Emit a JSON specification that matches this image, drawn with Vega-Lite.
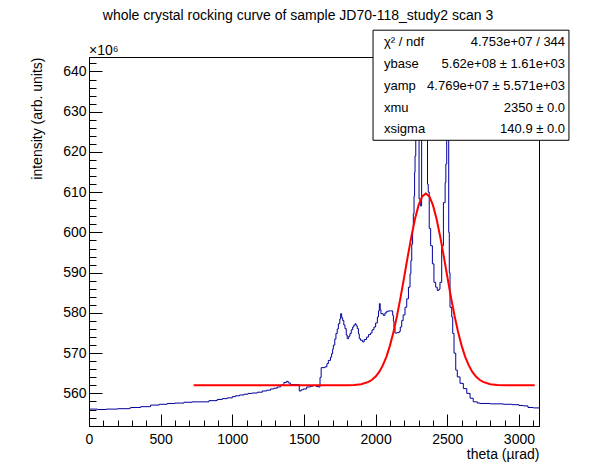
{
  "$schema": "https://vega.github.io/schema/vega-lite/v6.json",
  "width": 450,
  "height": 369,
  "autosize": {"type": "none"},
  "padding": {"left": 89, "top": 57, "right": 59, "bottom": 48},
  "background": "white",
  "title": {
    "text": "whole crystal rocking curve of sample JD70-118_study2 scan 3",
    "font": "Liberation Sans",
    "fontSize": 14,
    "fontWeight": "normal",
    "color": "black",
    "anchor": "middle",
    "baseline": "alphabetic",
    "dx": -16,
    "dy": 14,
    "offset": 10
  },
  "datasets": {
    "hist": [
      {"x": 0, "y": 556.1}, {"x": 60, "y": 556.0}, {"x": 120, "y": 556.1}, {"x": 200, "y": 556.2},
      {"x": 280, "y": 556.3}, {"x": 291, "y": 556.5}, {"x": 360, "y": 556.7}, {"x": 430, "y": 557.1},
      {"x": 490, "y": 557.3}, {"x": 546, "y": 557.5}, {"x": 600, "y": 557.6}, {"x": 663, "y": 557.8},
      {"x": 720, "y": 557.9}, {"x": 767, "y": 557.9}, {"x": 837, "y": 558.2}, {"x": 895, "y": 558.5},
      {"x": 930, "y": 558.7}, {"x": 965, "y": 558.9}, {"x": 1000, "y": 559.2}, {"x": 1023, "y": 559.4},
      {"x": 1050, "y": 559.6}, {"x": 1081, "y": 559.8}, {"x": 1110, "y": 560.0}, {"x": 1139, "y": 560.1},
      {"x": 1175, "y": 560.3}, {"x": 1209, "y": 560.6}, {"x": 1240, "y": 560.8}, {"x": 1267, "y": 561.1},
      {"x": 1290, "y": 561.3}, {"x": 1314, "y": 561.6}, {"x": 1337, "y": 562.1}, {"x": 1360, "y": 562.7},
      {"x": 1377, "y": 563.0}, {"x": 1390, "y": 562.6}, {"x": 1405, "y": 562.2}, {"x": 1467, "y": 560.6},
      {"x": 1480, "y": 560.9}, {"x": 1495, "y": 561.1}, {"x": 1519, "y": 561.6}, {"x": 1545, "y": 561.8},
      {"x": 1565, "y": 562.0}, {"x": 1585, "y": 561.7}, {"x": 1600, "y": 561.6}, {"x": 1612, "y": 564.0},
      {"x": 1620, "y": 566.4}, {"x": 1646, "y": 566.6}, {"x": 1660, "y": 567.4}, {"x": 1670, "y": 568.2},
      {"x": 1685, "y": 569.0}, {"x": 1693, "y": 569.9}, {"x": 1700, "y": 571.0}, {"x": 1705, "y": 572.0},
      {"x": 1715, "y": 573.5}, {"x": 1723, "y": 574.9}, {"x": 1732, "y": 576.0}, {"x": 1740, "y": 577.3},
      {"x": 1750, "y": 578.5}, {"x": 1756, "y": 579.8}, {"x": 1763, "y": 578.8}, {"x": 1770, "y": 578.1},
      {"x": 1778, "y": 577.0}, {"x": 1786, "y": 576.1}, {"x": 1795, "y": 574.5}, {"x": 1802, "y": 573.6},
      {"x": 1812, "y": 574.2}, {"x": 1821, "y": 574.9}, {"x": 1830, "y": 575.8}, {"x": 1840, "y": 576.5},
      {"x": 1848, "y": 577.0}, {"x": 1856, "y": 577.3}, {"x": 1864, "y": 576.8}, {"x": 1872, "y": 576.1},
      {"x": 1880, "y": 574.8}, {"x": 1886, "y": 573.6}, {"x": 1895, "y": 573.2}, {"x": 1909, "y": 572.8},
      {"x": 1920, "y": 573.4}, {"x": 1937, "y": 574.0}, {"x": 1950, "y": 574.6}, {"x": 1965, "y": 575.0},
      {"x": 1975, "y": 575.8}, {"x": 1988, "y": 576.5}, {"x": 2000, "y": 577.5}, {"x": 2012, "y": 579.0},
      {"x": 2020, "y": 580.5}, {"x": 2026, "y": 582.3}, {"x": 2032, "y": 580.8}, {"x": 2037, "y": 579.8},
      {"x": 2053, "y": 579.4}, {"x": 2065, "y": 580.0}, {"x": 2077, "y": 580.4}, {"x": 2090, "y": 580.5},
      {"x": 2105, "y": 580.5}, {"x": 2119, "y": 579.4}, {"x": 2124, "y": 578.0}, {"x": 2128, "y": 576.5},
      {"x": 2135, "y": 575.0}, {"x": 2150, "y": 575.1}, {"x": 2165, "y": 575.4}, {"x": 2172, "y": 576.5},
      {"x": 2182, "y": 578.1}, {"x": 2192, "y": 579.5}, {"x": 2205, "y": 581.4}, {"x": 2217, "y": 583.5},
      {"x": 2229, "y": 586.4}, {"x": 2240, "y": 589.7}, {"x": 2246, "y": 593.0}, {"x": 2252, "y": 597.1},
      {"x": 2258, "y": 601.0}, {"x": 2263, "y": 604.6}, {"x": 2268, "y": 609.0}, {"x": 2272, "y": 614.9},
      {"x": 2275, "y": 619.0}, {"x": 2280, "y": 632.0}, {"x": 2303, "y": 608.3}, {"x": 2312, "y": 606.6},
      {"x": 2321, "y": 640.0}, {"x": 2362, "y": 612.0}, {"x": 2367, "y": 610.0}, {"x": 2374, "y": 601.0},
      {"x": 2384, "y": 596.7}, {"x": 2396, "y": 592.2}, {"x": 2407, "y": 587.6}, {"x": 2419, "y": 586.4},
      {"x": 2430, "y": 585.6}, {"x": 2442, "y": 585.9}, {"x": 2449, "y": 587.6}, {"x": 2461, "y": 596.7},
      {"x": 2473, "y": 607.4}, {"x": 2485, "y": 612.4}, {"x": 2490, "y": 617.0}, {"x": 2496, "y": 630.0},
      {"x": 2510, "y": 600.0}, {"x": 2514, "y": 590.0}, {"x": 2519, "y": 581.4}, {"x": 2531, "y": 579.0},
      {"x": 2538, "y": 574.9}, {"x": 2547, "y": 570.0}, {"x": 2559, "y": 565.8}, {"x": 2570, "y": 564.1},
      {"x": 2589, "y": 562.5}, {"x": 2612, "y": 561.2}, {"x": 2636, "y": 560.0}, {"x": 2659, "y": 558.8},
      {"x": 2681, "y": 557.9}, {"x": 2710, "y": 557.6}, {"x": 2728, "y": 557.5}, {"x": 2800, "y": 557.4},
      {"x": 2891, "y": 557.3}, {"x": 2950, "y": 557.2}, {"x": 3000, "y": 557.0}, {"x": 3030, "y": 556.9},
      {"x": 3063, "y": 556.5}, {"x": 3100, "y": 556.4}, {"x": 3140, "y": 556.3}
    ],
    "fit": [
      {"x": 730, "y": 562.0}, {"x": 1750, "y": 562.0}, {"x": 1800, "y": 562.02}, {"x": 1850, "y": 562.09},
      {"x": 1900, "y": 562.29}, {"x": 1950, "y": 562.85}, {"x": 1975, "y": 563.38}, {"x": 2000, "y": 564.18},
      {"x": 2025, "y": 565.33}, {"x": 2050, "y": 566.95}, {"x": 2075, "y": 569.10}, {"x": 2100, "y": 571.88},
      {"x": 2125, "y": 575.32}, {"x": 2150, "y": 579.41}, {"x": 2175, "y": 584.05}, {"x": 2200, "y": 589.06},
      {"x": 2225, "y": 594.18}, {"x": 2250, "y": 599.07}, {"x": 2275, "y": 603.39}, {"x": 2300, "y": 606.78},
      {"x": 2325, "y": 608.95}, {"x": 2350, "y": 609.69}, {"x": 2375, "y": 608.95}, {"x": 2400, "y": 606.78},
      {"x": 2425, "y": 603.39}, {"x": 2450, "y": 599.07}, {"x": 2475, "y": 594.18}, {"x": 2500, "y": 589.06},
      {"x": 2525, "y": 584.05}, {"x": 2550, "y": 579.41}, {"x": 2575, "y": 575.32}, {"x": 2600, "y": 571.88},
      {"x": 2625, "y": 569.10}, {"x": 2650, "y": 566.95}, {"x": 2675, "y": 565.33}, {"x": 2700, "y": 564.18},
      {"x": 2725, "y": 563.38}, {"x": 2750, "y": 562.85}, {"x": 2800, "y": 562.29}, {"x": 2850, "y": 562.09},
      {"x": 2900, "y": 562.02}, {"x": 2950, "y": 562.0}, {"x": 3110, "y": 562.0}
    ],
    "box": [{"x": 1982, "x2": 3349, "y": 650.26, "y2": 622.9}],
    "stats": [
      {"lx": 2058, "vx": 3322, "y": 647.28, "label": "χ² / ndf", "value": "4.753e+07 / 344"},
      {"lx": 2058, "vx": 3322, "y": 641.8, "label": "ybase", "value": "5.62e+08 ± 1.61e+03"},
      {"lx": 2058, "vx": 3322, "y": 636.35, "label": "yamp", "value": "4.769e+07 ± 5.571e+03"},
      {"lx": 2058, "vx": 3322, "y": 631.0, "label": "xmu", "value": "2350 ± 0.0"},
      {"lx": 2058, "vx": 3322, "y": 625.66, "label": "xsigma", "value": "140.9 ± 0.0"}
    ],
    "exponent": [{"x": 0, "y": 644.05, "text": "×10⁶"}]
  },
  "layer": [
    {
      "data": {"name": "hist"},
      "mark": {"type": "line", "interpolate": "step-after", "color": "#000099", "strokeWidth": 1, "clip": true},
      "encoding": {
        "x": {
          "field": "x", "type": "quantitative",
          "scale": {"domain": [0, 3140], "nice": false, "zero": false},
          "axis": {
            "orient": "bottom",
            "values": [0, 500, 1000, 1500, 2000, 2500, 3000],
            "format": "d",
            "tickSize": -12,
            "labelPadding": 18,
            "labelFontSize": 14,
            "labelFlush": false,
            "labelOverlap": false,
            "title": "theta (µrad)",
            "titleAnchor": "end",
            "titleFontSize": 14,
            "titlePadding": 1
          }
        },
        "y": {
          "field": "y", "type": "quantitative",
          "scale": {"domain": [551.9, 643.6], "nice": false, "zero": false},
          "axis": {
            "orient": "left",
            "values": [560, 570, 580, 590, 600, 610, 620, 630, 640],
            "format": "d",
            "tickSize": -13,
            "labelPadding": 16,
            "labelFontSize": 14,
            "labelFlush": false,
            "labelOverlap": false,
            "title": "intensity (arb. units)",
            "titleAnchor": "end",
            "titleFontSize": 14,
            "titlePadding": 18
          }
        }
      }
    },
    {
      "data": {"name": "fit"},
      "mark": {"type": "line", "color": "#ff0000", "strokeWidth": 2, "clip": true},
      "encoding": {
        "x": {
          "field": "x", "type": "quantitative",
          "axis": {
            "orient": "bottom",
            "values": [100, 200, 300, 400, 600, 700, 800, 900, 1100, 1200, 1300, 1400, 1600, 1700, 1800, 1900, 2100, 2200, 2300, 2400, 2600, 2700, 2800, 2900, 3100],
            "tickSize": -6,
            "labels": false,
            "domain": false,
            "title": null
          }
        },
        "y": {
          "field": "y", "type": "quantitative",
          "axis": {
            "orient": "left",
            "values": [552, 554, 556, 558, 562, 564, 566, 568, 572, 574, 576, 578, 582, 584, 586, 588, 592, 594, 596, 598, 602, 604, 606, 608, 612, 614, 616, 618, 622, 624, 626, 628, 632, 634, 636, 638, 642],
            "tickSize": -7,
            "labels": false,
            "domain": false,
            "title": null
          }
        }
      }
    },
    {
      "data": {"name": "box"},
      "mark": {"type": "rect", "fill": "white", "stroke": "black", "strokeWidth": 1},
      "encoding": {
        "x": {"field": "x", "type": "quantitative", "axis": null},
        "x2": {"field": "x2"},
        "y": {"field": "y", "type": "quantitative", "axis": null},
        "y2": {"field": "y2"}
      }
    },
    {
      "data": {"name": "stats"},
      "mark": {"type": "text", "align": "left", "baseline": "middle", "font": "Liberation Sans", "fontSize": 13, "color": "black"},
      "encoding": {
        "x": {"field": "lx", "type": "quantitative", "axis": null},
        "y": {"field": "y", "type": "quantitative", "axis": null},
        "text": {"field": "label"}
      }
    },
    {
      "data": {"name": "stats"},
      "mark": {"type": "text", "align": "right", "baseline": "middle", "font": "Liberation Sans", "fontSize": 13, "color": "black"},
      "encoding": {
        "x": {"field": "vx", "type": "quantitative", "axis": null},
        "y": {"field": "y", "type": "quantitative", "axis": null},
        "text": {"field": "value"}
      }
    },
    {
      "data": {"name": "exponent"},
      "mark": {"type": "text", "align": "left", "baseline": "alphabetic", "font": "Liberation Sans", "fontSize": 14, "color": "black"},
      "encoding": {
        "x": {"field": "x", "type": "quantitative", "axis": null},
        "y": {"field": "y", "type": "quantitative", "axis": null},
        "text": {"field": "text"}
      }
    }
  ],
  "resolve": {"axis": {"x": "independent", "y": "independent"}},
  "config": {
    "view": {"stroke": "black", "strokeWidth": 1},
    "font": "Liberation Sans",
    "axis": {
      "grid": false,
      "labelFont": "Liberation Sans",
      "titleFont": "Liberation Sans",
      "labelColor": "black",
      "titleColor": "black",
      "tickColor": "black",
      "domainColor": "black",
      "titleFontWeight": "normal"
    }
  }
}
